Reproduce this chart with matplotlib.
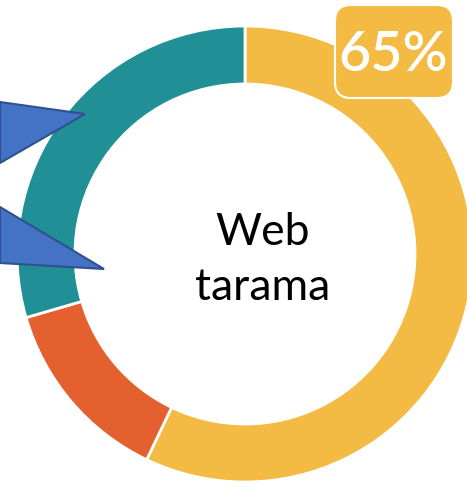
import matplotlib
matplotlib.use("Agg")
import matplotlib.pyplot as plt
from matplotlib.patches import FancyBboxPatch, Polygon

# Data
categories = ["Web tarama", "Diğer", "Kalan"]
values = [57.1, 13.4, 29.5]
colors = ["#F4BB44", "#E4602F", "#218F96"]
highlight_label = "65%"
center_label = "Web\ntarama"

W, H = 467, 487
fig = plt.figure(figsize=(W / 100, H / 100), dpi=100)
ax = fig.add_axes([0, 0, 1, 1])
ax.set_xlim(0, W)
ax.set_ylim(0, H)
ax.set_aspect("equal")
ax.axis("off")

def iy(y):
    return H - y

ax.pie(values, colors=colors, center=(245, iy(254)), radius=228,
       startangle=90, counterclock=False,
       wedgeprops=dict(width=58, edgecolor="white", linewidth=2))
ax.set_xlim(0, W)
ax.set_ylim(0, H)

# Callout tails (blue triangles)
tails = [
    [(0, 102), (85, 114), (0, 163)],
    [(0, 207), (104, 269), (0, 263)],
]
for t in tails:
    ax.add_patch(Polygon([(x, iy(y)) for x, y in t], closed=True,
                         facecolor="#4472C4", edgecolor="#2F528F", linewidth=1.5,
                         zorder=5))

# Percentage badge
box = FancyBboxPatch((335, iy(98)), 118, 93,
                     boxstyle="round,pad=0,rounding_size=16",
                     facecolor="#F4BB44", edgecolor="white", linewidth=1.5, zorder=6)
ax.add_patch(box)
ax.text(393, iy(55), highlight_label, color="white", fontsize=40,
        family="Lato", fontweight="semibold", ha="center", va="center", zorder=7)

# Center label
ax.text(263, iy(260), center_label, color="black", fontsize=32,
        family="Lato", ha="center", va="center", linespacing=1.4)

fig.savefig("out.png", dpi=100)
